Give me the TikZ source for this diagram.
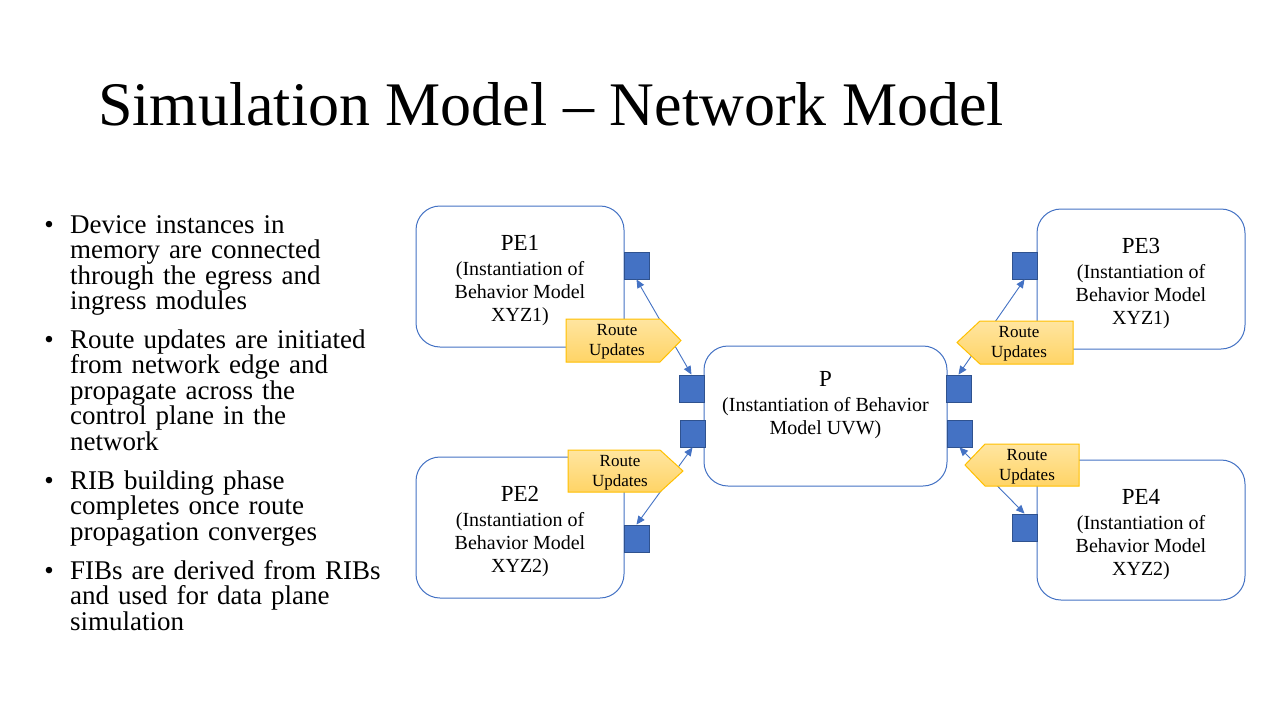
\documentclass[tikz,border=0pt]{standalone}
\usepackage{fontspec}
\setmainfont{Liberation Serif}
\usetikzlibrary{arrows.meta}

\definecolor{accent}{HTML}{4472C4}
\definecolor{accentdark}{HTML}{2F528F}
\definecolor{goldedge}{HTML}{FFC000}
\definecolor{goldtop}{HTML}{FFE5A0}
\definecolor{goldbottom}{HTML}{FFD466}

\tikzset{
  device/.style={draw=accent, line width=1pt, fill=white, rounded corners=24pt,
    inner sep=0pt},
  devtext/.style={align=center, font=\fontsize{20}{23}\selectfont, inner sep=0pt},
  port/.style={draw=accentdark, line width=0.8pt, fill=accent, minimum width=25pt,
    minimum height=27pt, inner sep=0pt},
  link/.style={draw=accent, line width=0.9pt,
    {Triangle[length=8.5pt,width=7.5pt]}-{Triangle[length=8.5pt,width=7.5pt]}},
  callout/.style={draw=goldedge, line width=1pt, top color=goldtop, bottom color=goldbottom},
  callouttext/.style={align=center, font=\fontsize{17}{20}\selectfont, inner sep=0pt},
  bulletmark/.style={anchor=base, font=\fontsize{27}{25.5}\selectfont, inner sep=0pt},
  bullettext/.style={anchor=base west, text width=340pt, align=left,
    font=\fontsize{27}{25.5}\selectfont, inner sep=0pt},
}

\begin{document}
\begin{tikzpicture}[x=1pt, y=-1pt]
  % page
  \fill[white] (0,0) rectangle (1280,720);
  \useasboundingbox (0,0) rectangle (1280,720);

  % heading
  \node[anchor=base west, inner sep=0pt, font=\fontsize{62}{70}\selectfont]
    (title) at (98,125) {Simulation Model – Network Model};

  % bullet list
  \node[bulletmark] (b1) at (49,233) {•};
  \node[bullettext] (t1) at (70,233) {Device instances in\\memory are connected\\through the egress and\\ingress modules};
  \node[bulletmark] (b2) at (49,348) {•};
  \node[bullettext] (t2) at (70,348) {Route updates are initiated\\from network edge and\\propagate across the\\control plane in the\\network};
  \node[bulletmark] (b3) at (49,489) {•};
  \node[bullettext] (t3) at (70,489) {RIB building phase\\completes once route\\propagation converges};
  \node[bulletmark] (b4) at (49,579) {•};
  \node[bullettext] (t4) at (70,579) {FIBs are derived from RIBs\\and used for data plane\\simulation};

  % device boxes
  \node[device, minimum width=208pt, minimum height=141pt] (pe1) at (520,276.5) {};
  \node[device, minimum width=208pt, minimum height=141pt] (pe2) at (520,527.5) {};
  \node[device, minimum width=208pt, minimum height=140pt] (pe3) at (1141,279) {};
  \node[device, minimum width=208pt, minimum height=140pt] (pe4) at (1141,530) {};
  \node[device, minimum width=243pt, minimum height=140pt] (p) at (825.5,416) {};

  % device labels
  \node[devtext] (pe1l) at (520,281) {{\fontsize{23}{25}\selectfont PE1}\\[2pt](Instantiation of\\Behavior Model\\XYZ1)};
  \node[devtext] (pe2l) at (520,532) {{\fontsize{23}{25}\selectfont PE2}\\[2pt](Instantiation of\\Behavior Model\\XYZ2)};
  \node[devtext] (pe3l) at (1141,284) {{\fontsize{23}{25}\selectfont PE3}\\[2pt](Instantiation of\\Behavior Model\\XYZ1)};
  \node[devtext] (pe4l) at (1141,535) {{\fontsize{23}{25}\selectfont PE4}\\[2pt](Instantiation of\\Behavior Model\\XYZ2)};
  \node[devtext] (pl) at (825.5,405) {{\fontsize{23}{25}\selectfont P}\\[2pt](Instantiation of Behavior\\Model UVW)};

  % ports
  \node[port] (s1) at (636.5,265.5) {};
  \node[port] (s2) at (691.5,388.5) {};
  \node[port] (s3) at (692.5,433.5) {};
  \node[port] (s4) at (636.5,538.5) {};
  \node[port] (s5) at (1024.5,265.5) {};
  \node[port] (s6) at (958.5,388.5) {};
  \node[port] (s7) at (959.5,433.5) {};
  \node[port] (s8) at (1024.5,527.5) {};

  % links between ports
  \draw[link] (s1.south) -- (s2.north);
  \draw[link] (s3.south) -- (s4.north);
  \draw[link] (s6.north) -- (s5.south);
  \draw[link] (s7.south) -- (s8.north);

  % route update callouts
  \path[callout] (566,319) -- (660,319) -- (681,340.5) -- (660,362) -- (566,362) -- cycle;
  \node[callouttext] (c1) at (617,341.5) {Route\\Updates};
  \path[callout] (568,450) -- (660,450) -- (683,471) -- (660,492) -- (568,492) -- cycle;
  \node[callouttext] (c2) at (620,472.5) {Route\\Updates};
  \path[callout] (957,342.5) -- (980,321) -- (1073,321) -- (1073,364) -- (980,364) -- cycle;
  \node[callouttext] (c3) at (1019,344) {Route\\Updates};
  \path[callout] (965,465) -- (985,444) -- (1079,444) -- (1079,486) -- (985,486) -- cycle;
  \node[callouttext] (c4) at (1027,466.5) {Route\\Updates};
\end{tikzpicture}
\end{document}
